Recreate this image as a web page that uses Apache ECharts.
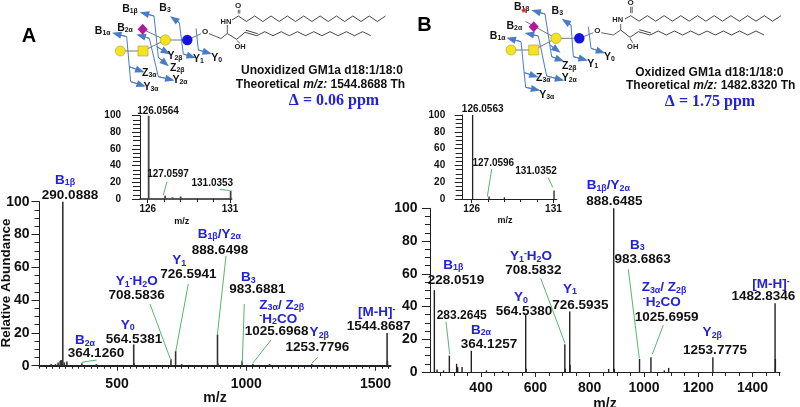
<!DOCTYPE html>
<html><head><meta charset="utf-8">
<style>html,body{margin:0;padding:0;background:#fff}#c{width:800px;height:407px}</style>
<script src="https://cdn.jsdelivr.net/npm/echarts@6/dist/echarts.min.js"></script>
</head><body><div id="c"></div>
<script>
// ---------- data ----------
const mzA   = [245,262,272,280,284,290.0888,296,306,364.126,420,564.5381,566,708.5836,726.5941,750,888.6498,890,983.6881,1025.6968,1090,1253.7796,1544.8687,1546];
const intA  = [1,1,2,3,3.5,100,2,2.5,1.5,1,13,1.5,4,9,1,19,1.5,3,1,1,1,20,3];
const mzB   = [228.0519,238,262,283.2645,310,314,330,364.1257,420,480,564.538,566,708.5832,710,726.5935,728,870,888.6485,891,983.6863,1025.6959,1075,1091,1253.7775,1482.8346,1484];
const intB  = [50,1.5,1,10,5,3,3,13,1,0.7,35,2,17,2,37,4.5,1.8,100,2,8,9,1,2.5,9,42,8];
const mzIA  = [126.0564,127.0597,127.5,128,131.0353];
const intIA = [100,4,2,3,10];
const mzIB  = [126.0563,127.0596,128,131.0352];
const intIB = [100,3,2,10];
const ticksA = [500,1000,1500];
const ticksB = [400,600,800,1000,1200,1400];
const ticksInset = [126,131];
const minorInset = [127,128,129,130];
const yTicks = [0,20,40,60,80,100];

// ---------- helpers ----------
const FF = '"Liberation Sans",Arial,sans-serif';
const BLUE = '#2222d8', GREEN = '#58b56e', ARROW = '#4a7cc6', GREY = '#777';
const range = (a,b,s)=>{const r=[];for(let v=a;v<=b;v+=s)r.push(v);return r;};
const pairs = (x,y)=>x.map((v,i)=>[v,y[i]]);
const g = [];
function text(t,x,y,size,color,extra){
  const sub = Math.round(size*0.66*10)/10;
  g.push({type:'text',silent:true,z:20,x:x,y:y,rotation:(extra&&extra.rotation)||0,style:Object.assign({
    text:t,x:0,y:0,align:'center',verticalAlign:'middle',fill:color,
    font:'bold '+size+'px '+FF,
    rich:{s:{fontSize:sub,fontWeight:'bold',fontFamily:FF,fill:color,verticalAlign:'bottom',padding:[Math.round(size*0.42),0,0,0]},
          m:{fontSize:sub,fontWeight:'bold',fontFamily:FF,fill:color,verticalAlign:'top',padding:[0,0,Math.round(size*0.42),0]},
          i:{fontSize:size,fontWeight:'bold',fontStyle:'italic',fontFamily:FF,fill:color}}
  },extra&&extra.style||{})});
}
function line(pts,color,w,z){
  g.push({type:'polyline',silent:true,z:z||10,shape:{points:pts},style:{stroke:color,lineWidth:w,fill:null}});
}
function arrow(pts){
  line(pts,ARROW,1);
  const e=pts[pts.length-1],p=pts[pts.length-2];
  const dx=e[0]-p[0],dy=e[1]-p[1],l=Math.hypot(dx,dy),ux=dx/l,uy=dy/l,L=7.5,W=3.6;
  g.push({type:'polygon',silent:true,z:11,shape:{points:[[e[0]+ux*2,e[1]+uy*2],[e[0]-ux*L-uy*W,e[1]-uy*L+ux*W],[e[0]-ux*L+uy*W,e[1]-uy*L-ux*W]]},style:{fill:ARROW}});
}
function glycan(o){
  const P=o.p;
  const pos=k=>[P[k][0],P[k][1]];
  line([pos('gal0'),pos('gn')],GREY,1,5);
  line([pos('gn'),pos('gal1')],GREY,1,5);
  line([o.sialStart||pos('sial'),pos('gal1')],GREY,1,5);
  line([pos('gal1'),pos('glc')],GREY,1,5);
  line([pos('glc'),[P.o[0]-4,P.o[1]+2]],GREY,1,5);
  const circ=(c,r,f)=>g.push({type:'circle',silent:true,z:12,shape:{cx:c[0],cy:c[1],r:r},style:{fill:f,stroke:'#a89a30',lineWidth:0.6}});
  circ(pos('gal0'),5,'#f5e320');
  circ(pos('gal1'),5.2,'#f5e320');
  g.push({type:'circle',silent:true,z:12,shape:{cx:P.glc[0],cy:P.glc[1],r:5.2},style:{fill:'#1414e0'}});
  g.push({type:'rect',silent:true,z:12,shape:{x:P.gn[0]-5,y:P.gn[1]-5,width:10,height:10},style:{fill:'#f5e320',stroke:'#a89a30',lineWidth:0.6}});
  const d=P.sial;
  g.push({type:'polygon',silent:true,z:12,shape:{points:[[d[0],d[1]-5.5],[d[0]+5,d[1]],[d[0],d[1]+5.5],[d[0]-5,d[1]]]},style:{fill:'#b3179f'}});
  o.paths.forEach(a=>{
    line(a.pts,ARROW,1);
    if(a.headStart) arrow([a.pts[1],a.pts[0]]);
    if(a.headEnd) arrow([a.pts[a.pts.length-2],a.pts[a.pts.length-1]]);
  });
  o.labels.forEach(l=>text(l[0],l[1],l[2],10.5,'#111'));
  const L=o.lipid;
  line([[P.o[0]+4,P.o[1]+2],[P.o[0]+16,L.n2[1]+5],L.n2,L.hn],'#333',0.8);
  text('O',P.o[0],P.o[1],8,'#222');
  const ch1=[[L.hnEnd[0],L.hnEnd[1]]];
  for(let i=0;i<=L.n1;i++)ch1.push([L.c1[0]+i*L.s1,L.c1[1]+(i%2?5.5:0)]);
  line(ch1,'#333',0.9);
  line([[L.c1[0],L.c1[1]-2.5],[L.c1[0],L.co[1]+4]],'#333',0.8);
  line([[L.c1[0]+1.5,L.c1[1]-2.5],[L.c1[0]+1.5,L.co[1]+4]],'#333',0.8);
  text('O',L.co[0],L.co[1],8,'#222');
  text('HN',L.hnT[0],L.hnT[1],7.5,'#222');
  text('OH',L.oh[0],L.oh[1],7.5,'#222');
  line([L.n2,L.c2,L.d1],'#333',0.9);
  line([[L.c2[0],L.c2[1]+1],[L.oh[0],L.oh[1]-4]],'#333',0.8);
  const ch2=[L.d1,L.d2];
  for(let i=1;i<=L.n2n;i++)ch2.push([L.d2[0]+i*L.s2,L.d2[1]+(i%2?-4:0)]);
  line(ch2,'#333',0.9);
  line([[L.d1[0]+1,L.d1[1]-2],[L.d2[0]+1,L.d2[1]-2]],'#333',0.9);
}

// ---------- panel annotations (layout only) ----------
[['A',29,36],['B',424.5,25]].forEach(a=>text(a[0],a[1],a[2],20,'#000'));
const sz=13.5, szI=10;
const ionsA=[['B{s|1β}',65,180],['B{s|2α}',85,340.7],['Y{s|0}',127.7,325],['Y{s|1}{m|-}H{s|2}O',136.7,281.7],['Y{s|1}',179.3,260.7],
  ['B{s|1β}/Y{s|2α}',219.3,234],['B{s|3}',248.3,277.3],['Z{s|3α}/ Z{s|2β}',281.7,305],['{m|-}H{s|2}CO',278.3,319],['Y{s|2β}',319.3,332.3],['[M-H]{m|-}',376.7,312.3]];
const valsA=[['290.0888',70,195],['364.1260',96,353.7],['564.5381',134,339],['708.5836',136.7,295],['726.5941',188.3,274.3],['888.6498',220,250],
  ['983.6881',257.3,289.3],['1025.6968',276.7,331.7],['1253.7796',317.3,347.7],['1544.8687',378.7,326]];
const ionsB=[['B{s|1β}/Y{s|2α}',608.3,185.7],['B{s|3}',637.3,245],['B{s|1β}',453.3,265],['Y{s|1}{m|-}H{s|2}O',531,256.7],['Y{s|1}',570,289],['Y{s|0}',521,297.7],
  ['B{s|2α}',481,330],['Z{s|3α}/ Z{s|2β}',664,287.3],['{m|-}H{s|2}CO',661.7,302],['Y{s|2β}',712.3,332.7],['[M-H]{m|-}',771,284.3]];
const valsB=[['888.6485',614.3,201.7],['983.6863',642.7,259],['228.0519',456,280.7],['708.5832',533.3,270.7],['726.5935',580.3,305],['564.5380',524,311.7],
  ['283.2645',461.7,315.3,12],['364.1257',489,344],['1025.6959',666.7,317],['1253.7775',715,350.7],['1482.8346',763.3,296.7]];
ionsA.concat(ionsB).forEach(a=>text(a[0],a[1],a[2],13.5,BLUE));
valsA.concat(valsB).forEach(a=>text(a[0],a[1],a[2],a[3]||sz,'#111'));
[['126.0564',158,111],['127.0597',168,174.7],['131.0353',212.3,183.3],['126.0563',482.7,109],['127.0596',493.3,163.3],['131.0352',536,171]].forEach(a=>text(a[0],a[1],a[2],szI,'#111'));
[['m/z',181.7,221.7],['m/z',505,220.7]].forEach(a=>text(a[0],a[1],a[2],9,'#111'));
text('Relative Abundance',6,283,13.5,'#111',{rotation:Math.PI/2});
[
 [[81.7,362.3],[96.7,360]],[[150,304],[171,360.7]],[[188.3,284],[175.7,351.7]],[[226,256],[217.3,335]],[[244.3,304],[242.3,362.7]],
 [[271,340],[252.7,363.3]],[[317.7,357.3],[311.7,363.3]],[[167,181.7],[163.3,195]],[[220,189.5],[229.5,190.5]],
 [[540.7,278.3],[565,343.3]],[[628.3,269.3],[639.3,358.3]],[[663.3,325],[652.3,354.3]],[[446,321.7],[449.7,354.3]],
 [[491.7,169],[487.3,196.7]],[[548.3,177.7],[552.7,187.3]]
].forEach(p=>line(p,GREEN,1));
text('Unoxidized GM1a d18:1/18:0',322,70.7,12,'#111');
text('Theoretical {i|m/z:} 1544.8688 Th',320.5,84.7,12,'#111');
text('Δ = 0.06 ppm',334,101,16,BLUE,{style:{font:'bold 16px "Liberation Serif",serif'}});
text('Oxidized GM1a d18:1/18:0',709.3,72.3,12,'#111');
text('Theoretical {i|m/z:} 1482.8320 Th',710.7,85.7,12,'#111');
text('Δ = 1.75 ppm',710,102.3,16,BLUE,{style:{font:'bold 16px "Liberation Serif",serif'}});

// ---------- glycan + lipid sketches ----------
const zo=(ox,oy,pts)=>pts.map(p=>[ox+p[0]/3,oy+p[1]/3]);
glycan({
  p:{sial:[142.7,29.3],gal1:[165.3,40],glc:[187.3,40],gn:[143,51],gal0:[120.3,51],o:[205,31.7]},
  paths:[
   {pts:zo(90,0,[[72,100],[110,110],[122,245],[162,258]]),headStart:1,headEnd:1},
   {pts:zo(90,0,[[118,200],[158,215]]),headEnd:1},
   {pts:zo(90,0,[[155,38],[192,48],[205,172],[232,195]]),headStart:1,headEnd:1},
   {pts:zo(90,0,[[200,140],[235,160]]),headEnd:1},
   {pts:zo(90,0,[[145,105],[178,115],[205,230],[248,240]]),headStart:1,headEnd:1},
   {pts:zo(90,0,[[245,52],[268,68],[280,162],[312,172]]),headStart:1,headEnd:1},
   {pts:zo(90,0,[[318,85],[325,150],[360,160]]),headEnd:1}
  ],
  labels:[['B{s|1α}',102.7,30.7],['B{s|1β}',130,9],['B{s|2α}',125,27.7],['B{s|3}',165,8.3],['Y{s|2β}',175,56],['Y{s|1}',198.3,59.3],['Y{s|0}',216.7,57.7],
          ['Z{s|2β}',177.3,68.3],['Z{s|3α}',149.3,73.3],['Y{s|2α}',180,80],['Y{s|3α}',151,87.3]],
  lipid:{n2:[227.3,33.5],hn:[227.3,25],hnEnd:[232,20],hnT:[226,21.7],c1:[238.3,16],co:[238,5.7],n1:18,s1:8.18,c2:[236.7,39.3],oh:[240,47.3],d1:[245,32.3],d2:[256.7,35.7],n2n:14,s2:8.15}
});
glycan({
  p:{sial:[533.7,26.7],gal1:[556,38.3],glc:[579.3,38.3],gn:[533.7,50],gal0:[511,50],o:[597.3,30.7]},
  sialStart:[525.5,21.5],
  paths:[
   {pts:zo(485,0,[[70,115],[108,125],[122,262],[160,270]]),headStart:1,headEnd:1},
   {pts:zo(485,0,[[118,218],[155,230]]),headEnd:1},
   {pts:zo(485,0,[[145,32],[180,42],[200,170],[232,182]]),headStart:1,headEnd:1},
   {pts:zo(485,0,[[195,135],[222,155]]),headEnd:1},
   {pts:zo(485,0,[[125,100],[160,108],[185,228],[232,240]]),headStart:1,headEnd:1},
   {pts:zo(485,0,[[235,60],[258,75],[265,170],[303,180]]),headStart:1,headEnd:1},
   {pts:zo(485,0,[[310,80],[318,145],[355,158]]),headEnd:1}
  ],
  labels:[['B{s|1α}',497.7,35.7],['B{s|1β}',521.7,6.7],['B{s|2α}',514.3,25.7],['B{s|3}',557.3,10.7],['Y{s|1}',592.7,64.3],['Y{s|0}',609.3,56.7],
          ['Z{s|2β}',569.3,65.7],['Z{s|3α}',543.3,78.3],['Y{s|2α}',569.3,78.3],['Y{s|3α}',546.7,95]],
  lipid:{n2:[620.7,30],hn:[620.7,24],hnEnd:[625,19],hnT:[617.7,20],c1:[630.7,15.7],co:[630.7,2.7],n1:18,s1:8.35,c2:[630,37.3],oh:[632.7,46.7],d1:[638.3,31.7],d2:[650,35],n2n:14,s2:8.15}
});
text('*',524,13,13,'#e8202a');

// ---------- axes ----------
function xPair(grid,min,max,major,labels,minor,opts){
  const base={type:'value',gridIndex:grid,min,max,position:'bottom',splitLine:{show:false}};
  return [
    Object.assign({},base,{
      name:opts.name||'',nameLocation:'middle',nameGap:opts.nameGap||20,
      nameTextStyle:{fontFamily:FF,fontWeight:'bold',fontSize:14,color:'#111'},
      axisLine:{show:true,onZero:false,lineStyle:{color:'#222',width:opts.lw}},
      axisTick:{show:true,customValues:major,length:opts.tl,lineStyle:{color:'#222',width:1}},
      axisLabel:{show:true,customValues:labels,margin:opts.margin,fontFamily:FF,fontWeight:'bold',fontSize:opts.fs,color:'#111',hideOverlap:false,formatter:v=>String(v)}
    }),
    Object.assign({},base,{
      axisLine:{show:false},
      axisTick:{show:true,customValues:minor,length:opts.ml,lineStyle:{color:'#222',width:1}},
      axisLabel:{show:false}
    })
  ];
}
function yAxis(grid,opts){
  return {type:'value',gridIndex:grid,min:0,max:100,interval:20,position:'left',
    splitLine:{show:false},
    axisLine:{show:true,lineStyle:{color:'#222',width:1}},
    axisTick:{show:true,length:opts.tl,lineStyle:{color:'#222',width:1}},
    minorTick:{show:true,splitNumber:4,length:opts.ml,lineStyle:{color:'#222',width:1}},
    minorSplitLine:{show:false},
    axisLabel:{show:true,customValues:yTicks,margin:opts.margin,fontFamily:FF,fontWeight:'bold',fontSize:opts.fs,color:'#111'}};
}
function peaks(grid,x,y,data,w,color){
  return {type:'custom',coordinateSystem:'cartesian2d',xAxisIndex:x,yAxisIndex:y,data,silent:true,animation:false,clip:false,
    encode:{x:0,y:1},
    renderItem:(p,api)=>{
      const top=api.coord([api.value(0),api.value(1)]),bot=api.coord([api.value(0),0]);
      return {type:'line',shape:{x1:top[0],y1:top[1],x2:bot[0],y2:bot[1]},style:{stroke:color,lineWidth:w}};
    }};
}
const grids=[
  {left:39.5,top:201.7,width:351,height:164,outerBoundsMode:'none'},
  {left:140,top:115.7,width:91.7,height:83.3,outerBoundsMode:'none'},
  {left:430,top:208.3,width:350,height:163.7,outerBoundsMode:'none'},
  {left:462.7,top:115,width:94,height:84,outerBoundsMode:'none'}
];
const xAxes=[].concat(
  xPair(0,200,1558,[500,1000,1500],ticksA,range(200,1550,25),{lw:2,tl:5,ml:3,margin:11,fs:14,name:'m/z',nameGap:25.5}),
  xPair(1,125.53,131.1,ticksInset,ticksInset,minorInset,{lw:1.5,tl:4,ml:3,margin:5,fs:10}),
  xPair(2,212,1501,ticksB,ticksB,range(250,1500,50),{lw:1.2,tl:5,ml:4,margin:9.5,fs:14,name:'m/z',nameGap:25}),
  xPair(3,125.45,131.2,ticksInset,ticksInset,minorInset,{lw:1.2,tl:4,ml:3,margin:5,fs:10})
);
const yAxes=[
  yAxis(0,{tl:8,ml:5,margin:10,fs:14}),
  yAxis(1,{tl:8,ml:7,margin:19,fs:10}),
  yAxis(2,{tl:8,ml:5,margin:12.5,fs:14}),
  yAxis(3,{tl:8,ml:7,margin:17.5,fs:10})
];
const chart=echarts.init(document.getElementById('c'),null,{renderer:'canvas',width:800,height:407});
chart.setOption({
  animation:false,backgroundColor:'#fff',
  grid:grids,xAxis:xAxes,yAxis:yAxes,
  series:[
    peaks(0,0,0,pairs(mzA,intA),1.6,'#333'),
    peaks(1,2,1,pairs(mzIA,intIA),1.8,'#444'),
    peaks(2,4,2,pairs(mzB,intB),1.4,'#222'),
    peaks(3,6,3,pairs(mzIB,intIB),1.3,'#222')
  ],
  graphic:{elements:g}
});
</script></body></html>
